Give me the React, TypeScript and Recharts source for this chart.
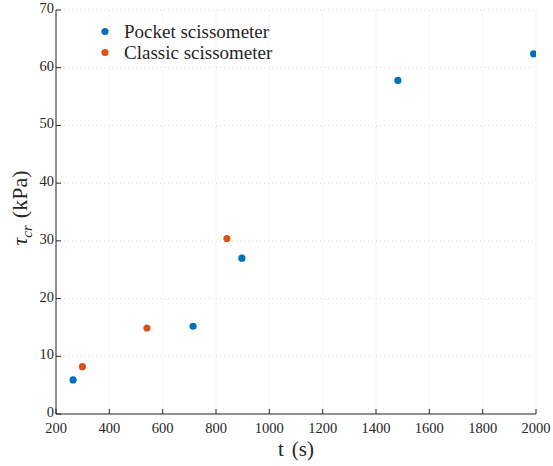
import React from "react";
import {
  ScatterChart,
  Scatter,
  XAxis,
  YAxis,
  CartesianGrid,
  Legend,
} from "recharts";

const pocketT = [264, 714, 897, 1482, 1991];
const pocketTau = [5.9, 15.2, 27.0, 57.8, 62.4];
const classicT = [299, 541, 841];
const classicTau = [8.2, 14.9, 30.4];
const xTicks = [200, 400, 600, 800, 1000, 1200, 1400, 1600, 1800, 2000];
const yTicks = [0, 10, 20, 30, 40, 50, 60, 70];
const seriesNames = ["Pocket scissometer", "Classic scissometer"];
const seriesColors = ["#0072BD", "#D95319"];

const pocketData = pocketT.map((t, i) => ({ t, tau: pocketTau[i] }));
const classicData = classicT.map((t, i) => ({ t, tau: classicTau[i] }));

const FONT = "'Liberation Serif', 'DejaVu Serif', serif";

const XTick = (props: any) => {
  const { x, y, payload } = props;
  return (
    <g>
      <line x1={x} y1={y} x2={x} y2={y - 5} stroke="#262626" strokeWidth={1} />
      <text x={x} y={y + 19} textAnchor="middle" fontFamily={FONT} fontSize={14.5} fill="#262626">
        {payload.value}
      </text>
    </g>
  );
};

const YTick = (props: any) => {
  const { x, y, payload } = props;
  return (
    <g>
      <line x1={x} y1={y} x2={x + 5} y2={y} stroke="#262626" strokeWidth={1} />
      <text x={x - 2} y={y + 3} textAnchor="end" fontFamily={FONT} fontSize={14.5} fill="#262626">
        {payload.value}
      </text>
    </g>
  );
};

const Dot = (props: any) => {
  const { cx, cy, fill } = props;
  return <circle cx={cx} cy={cy} r={3.6} fill={fill} />;
};

const LegendContent = () => (
  <div style={{ fontFamily: FONT, fontSize: 19, color: "#262626", lineHeight: "21px" }}>
    {seriesNames.map((n, i) => (
      <div key={n} style={{ display: "flex", alignItems: "center", height: 21 }}>
        <svg width={26} height={21}>
          <circle cx={7} cy={10.5} r={3.6} fill={seriesColors[i]} />
        </svg>
        <span>{n}</span>
      </div>
    ))}
  </div>
);

const YLabel = () => {
  const cx = 27;
  const cy = 208;
  return (
    <text
      transform={`translate(${cx},${cy}) rotate(-90)`}
      textAnchor="middle"
      fontFamily={FONT}
      fontSize={22}
      fill="#262626"
    >
      <tspan fontStyle="italic">τ</tspan>
      <tspan fontStyle="italic" fontSize={15} dy={5}>cr</tspan>
      <tspan dy={-5} dx={7}>(kPa)</tspan>
    </text>
  );
};

const XLabel = () => (
  <text x={296} y={456} textAnchor="middle" fontFamily={FONT} fontSize={21} fill="#262626">
    <tspan>t</tspan>
    <tspan dx={8}>(s)</tspan>
  </text>
);

export default function App() {
  return (
    <div style={{ position: "fixed", left: 0, top: 0, background: "#fff" }}>
      <ScatterChart
        width={553}
        height={466}
        margin={{ top: 10, right: 17, bottom: 12, left: 6 }}
      >
        <CartesianGrid stroke="#dcdcdc" strokeDasharray="1 3" />
        <XAxis
          type="number"
          dataKey="t"
          domain={[200, 2000]}
          ticks={xTicks}
          interval={0}
          tickSize={0}
          tickMargin={0}
          tick={<XTick />}
          tickLine={false}
          height={40}
          stroke="#262626"
          allowDataOverflow
          label={<XLabel />}
        />
        <YAxis
          type="number"
          dataKey="tau"
          domain={[0, 70]}
          ticks={yTicks}
          interval={0}
          tickSize={0}
          tickMargin={0}
          tick={<YTick />}
          tickLine={false}
          width={50}
          stroke="#262626"
          allowDataOverflow
          label={<YLabel />}
        />
        <Legend
          verticalAlign="middle"
          align="center"
          layout="vertical"
          content={<LegendContent />}
          wrapperStyle={{ top: 21, left: 98, width: 240, height: 42 }}
        />
        <Scatter
          name={seriesNames[0]}
          data={pocketData}
          fill={seriesColors[0]}
          shape={<Dot />}
          isAnimationActive={false}
        />
        <Scatter
          name={seriesNames[1]}
          data={classicData}
          fill={seriesColors[1]}
          shape={<Dot />}
          isAnimationActive={false}
        />
      </ScatterChart>
    </div>
  );
}
